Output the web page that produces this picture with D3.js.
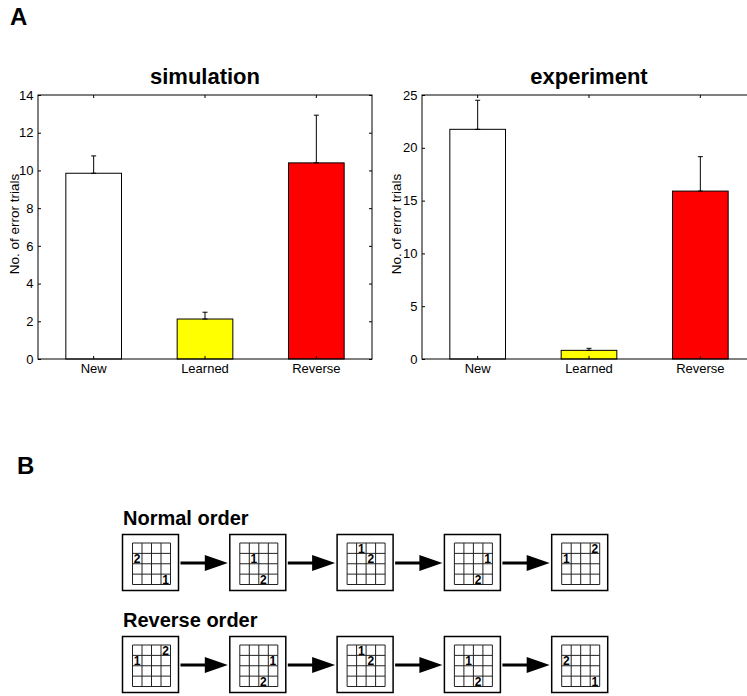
<!DOCTYPE html>
<html>
<head>
<meta charset="utf-8">
<script src="https://cdn.jsdelivr.net/npm/d3@7"></script>
<style>
  body { margin: 0; background: #fff; }
  svg { display: block; font-family: "Liberation Sans", Arial, sans-serif; }
</style>
</head>
<body>
<div id="fig"></div>
<script>
// Panel A data
const categories = ['New', 'Learned', 'Reverse'];
const barColors = ['#ffffff', '#ffff00', '#ff0000'];
const simMeans = [9.85, 2.12, 10.4];
const simErr = [0.92, 0.36, 2.53];
const simTicks = [0, 2, 4, 6, 8, 10, 12, 14];
const expMeans = [21.75, 0.82, 15.9];
const expErr = [2.75, 0.19, 3.26];
const expTicks = [0, 5, 10, 15, 20, 25];

// Panel B data: grid cell [col, row] of the "1" and "2" marks in each box
const normalOrder = [
  { one: [3, 3], two: [0, 1] },
  { one: [1, 1], two: [2, 3] },
  { one: [1, 0], two: [2, 1] },
  { one: [3, 1], two: [2, 3] },
  { one: [0, 1], two: [3, 0] }
];
const reverseOrder = normalOrder.slice().reverse();
const rowTitles = ['Normal order', 'Reverse order'];

const width = 747, height = 696;
const svg = d3.select('#fig').append('svg')
    .attr('width', width)
    .attr('height', height);

// panel letters
svg.append('text').attr('x', 10).attr('y', 25)
    .attr('font-size', 24).attr('font-weight', 'bold').text('A');
svg.append('text').attr('x', 17).attr('y', 474)
    .attr('font-size', 24).attr('font-weight', 'bold').text('B');

function barChart(left, title, means, errs, ticks, labelX) {
    const top = 95, bottom = 359, w = 334;
    const g = svg.append('g').attr('transform', `translate(${left},${top})`);
    const h = bottom - top;

    const x = d3.scaleBand().domain(categories).range([0, w])
        .paddingInner(0.5).paddingOuter(0.25);
    const y = d3.scaleLinear().domain([0, d3.max(ticks)]).range([h, 0]);

    // bars
    g.selectAll('rect.bar')
        .data(categories)
        .join('rect')
        .attr('class', 'bar')
        .attr('x', d => x(d))
        .attr('y', (d, i) => y(means[i]))
        .attr('width', x.bandwidth())
        .attr('height', (d, i) => h - y(means[i]))
        .attr('fill', (d, i) => barColors[i])
        .attr('stroke', '#000')
        .attr('stroke-width', 1);

    // error bars (upper half only, as in the figure)
    const eb = g.selectAll('g.err')
        .data(categories)
        .join('g')
        .attr('class', 'err')
        .attr('transform', d => `translate(${x(d) + x.bandwidth() / 2},0)`);
    eb.append('line')
        .attr('y1', (d, i) => y(means[i]))
        .attr('y2', (d, i) => y(means[i] + errs[i]))
        .attr('stroke', '#000');
    eb.append('line')
        .attr('x1', -2.5).attr('x2', 2.5)
        .attr('y1', (d, i) => y(means[i] + errs[i]))
        .attr('y2', (d, i) => y(means[i] + errs[i]))
        .attr('stroke', '#000');
    eb.append('line')
        .attr('x1', -2.5).attr('x2', 2.5)
        .attr('y1', (d, i) => y(means[i]))
        .attr('y2', (d, i) => y(means[i]))
        .attr('stroke', '#000');

    // axes with inward ticks
    const left_ = g.append('g')
        .call(d3.axisLeft(y).tickValues(ticks).tickSizeInner(-3).tickSizeOuter(0).tickPadding(4.5));
    const right_ = g.append('g').attr('transform', `translate(${w},0)`)
        .call(d3.axisRight(y).tickValues(ticks).tickSizeInner(-3).tickSizeOuter(0).tickFormat(''));
    const bottom_ = g.append('g').attr('transform', `translate(0,${h})`)
        .call(d3.axisBottom(x).tickSizeInner(-3).tickSizeOuter(0).tickPadding(5));
    const top_ = g.append('g')
        .call(d3.axisTop(x).tickSizeInner(-3).tickSizeOuter(0).tickFormat(''));
    [left_, right_, bottom_, top_].forEach(a => {
        a.select('.domain').remove();
        a.selectAll('text').attr('font-size', 13).attr('fill', '#000')
            .attr('font-family', '"Liberation Sans", Arial, sans-serif');
        a.selectAll('line').attr('stroke', '#000');
    });

    g.append('rect')
        .attr('width', w).attr('height', h)
        .attr('fill', 'none').attr('stroke', '#000').attr('stroke-width', 1);

    g.append('text')
        .attr('transform', `translate(${labelX - left},${h / 2 - 3}) rotate(-90)`)
        .attr('text-anchor', 'middle')
        .attr('font-size', 13.5)
        .text('No. of error trials');

    g.append('text')
        .attr('x', w / 2).attr('y', 84 - top)
        .attr('text-anchor', 'middle')
        .attr('font-size', 22).attr('font-weight', 'bold')
        .text(title);
}

barChart(38, 'simulation', simMeans, simErr, simTicks, 19);
barChart(422, 'experiment', expMeans, expErr, expTicks, 401);

// Panel B
const boxSize = 56;
const bx = d3.scalePoint().domain(d3.range(5)).range([122.5, 122.5 + 4 * 107.3]);
const gridW = 38, gridH = 41.5;
const cx = d3.scaleLinear().domain([0, 4]).range([0, gridW]);
const cy = d3.scaleLinear().domain([0, 4]).range([0, gridH]);

function sequenceRow(seq, rowTop, title) {
    svg.append('text')
        .attr('x', 123).attr('y', rowTop - 10)
        .attr('font-size', 20).attr('font-weight', 'bold')
        .text(title);

    const row = svg.append('g').attr('transform', `translate(0,${rowTop})`);

    // arrows between boxes
    const arrows = row.selectAll('g.arrow')
        .data(d3.range(seq.length - 1))
        .join('g')
        .attr('class', 'arrow');
    arrows.append('line')
        .attr('x1', i => bx(i) + boxSize + 2)
        .attr('x2', i => bx(i + 1) - 20)
        .attr('y1', boxSize / 2 + 0.5).attr('y2', boxSize / 2 + 0.5)
        .attr('stroke', '#000').attr('stroke-width', 3);
    arrows.append('path')
        .attr('d', i => {
            const tip = bx(i + 1) - 2, base = tip - 23, m = boxSize / 2 + 0.5;
            return `M${base},${m - 8}L${tip},${m}L${base},${m + 8}Z`;
        })
        .attr('fill', '#000');

    const boxes = row.selectAll('g.box')
        .data(seq)
        .join('g')
        .attr('class', 'box')
        .attr('transform', (d, i) => `translate(${bx(i)},0)`);
    boxes.append('rect')
        .attr('width', boxSize).attr('height', boxSize)
        .attr('fill', '#fff').attr('stroke', '#000').attr('stroke-width', 1.5);

    const grid = boxes.append('g').attr('transform', 'translate(10,8.5)');
    grid.selectAll('line.v')
        .data(d3.range(5))
        .join('line')
        .attr('class', 'v')
        .attr('x1', c => cx(c)).attr('x2', c => cx(c))
        .attr('y1', 0).attr('y2', gridH)
        .attr('stroke', '#222').attr('stroke-width', 1);
    grid.selectAll('line.h')
        .data(d3.range(5))
        .join('line')
        .attr('class', 'h')
        .attr('y1', r => cy(r)).attr('y2', r => cy(r))
        .attr('x1', 0).attr('x2', gridW)
        .attr('stroke', '#222').attr('stroke-width', 1);

    grid.each(function(d) {
        const gg = d3.select(this);
        [['1', d.one], ['2', d.two]].forEach(([lab, cell]) => {
            gg.append('text')
                .attr('x', cx(cell[0]) + 1.3)
                .attr('y', cy(cell[1] + 1) - 0.5)
                .attr('font-size', 12).attr('font-weight', 'bold')
                .text(lab);
        });
    });
}

sequenceRow(normalOrder, 534.5, rowTitles[0]);
sequenceRow(reverseOrder, 636.5, rowTitles[1]);
</script>
</body>
</html>
